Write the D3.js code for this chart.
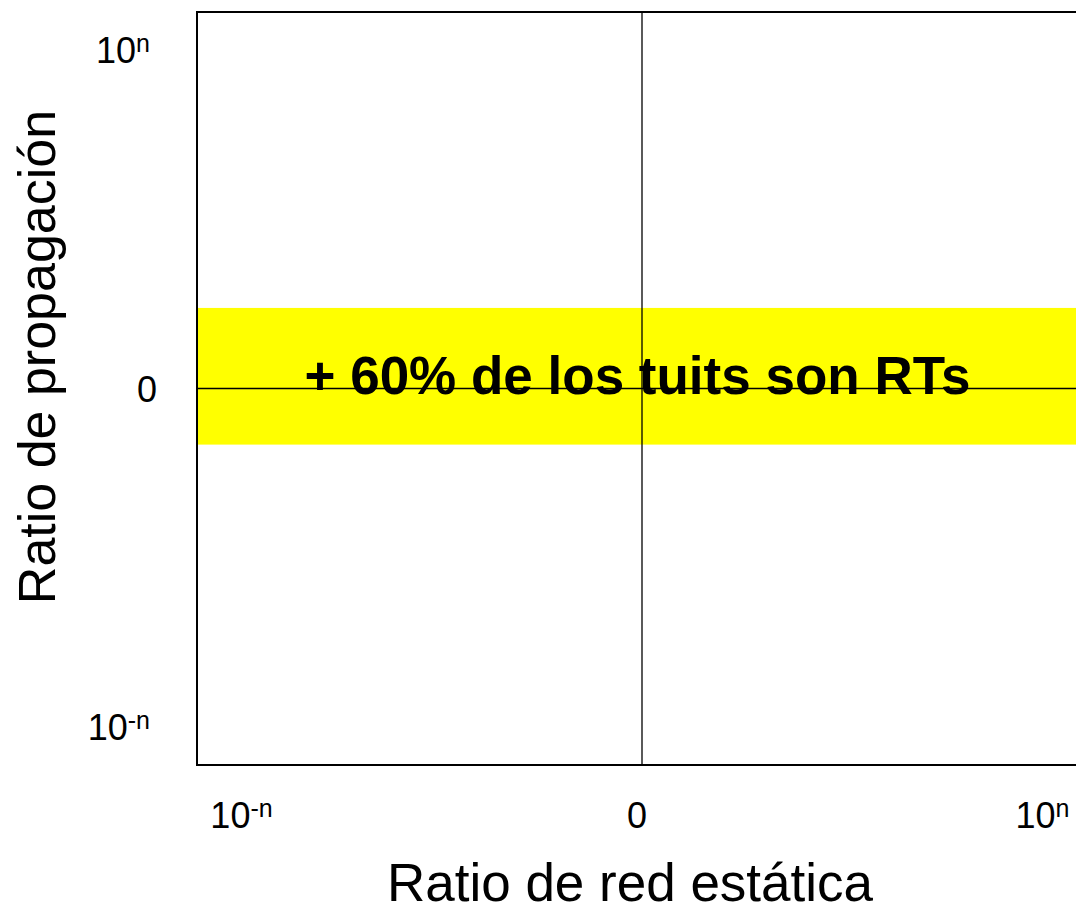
<!DOCTYPE html>
<html lang="es">
<head>
    <meta charset="UTF-8">
    <title>Ratio de propagación vs ratio de red estática</title>
    <script src="https://d3js.org/d3.v7.min.js"></script>
    <style>
        body {
            margin: 0;
            background: #fff;
            overflow: hidden;
        }
        svg text {
            font-family: "Liberation Sans", Arial, sans-serif;
            fill: #000;
        }
    </style>
</head>
<body>
    <div id="chart"></div>
    <script>
        // Axis ticks (schematic log-ratio axes)
        const xTickValues = [-0.9, 0, 0.9];
        const xTickBase = ["10", "0", "10"];
        const xTickSup = ["-n", "", "n"];
        const yTickValues = [0.9, 0, -0.9];
        const yTickBase = ["10", "0", "10"];
        const yTickSup = ["n", "", "-n"];

        // Highlighted band on the propagation axis
        const bandLow = [-0.149];
        const bandHigh = [0.214];
        const bandLabel = ["+ 60% de los tuits son RTs"];

        const xTitle = "Ratio de red estática";
        const yTitle = "Ratio de propagación";

        const width = 1076, height = 912;

        const svg = d3.select("#chart")
            .append("svg")
            .attr("width", width)
            .attr("height", height);

        // Scales: domain [-1, 1] around the central cross
        const x = d3.scaleLinear().domain([-1, 1]).range([197, 1087]);
        const y = d3.scaleLinear().domain([-1, 1]).range([765, 12]);

        // Yellow band
        svg.append("g")
            .selectAll("rect")
            .data(bandLow.map((lo, i) => ({ lo: lo, hi: bandHigh[i] })))
            .enter()
            .append("rect")
            .attr("x", x(-1))
            .attr("width", x(1) - x(-1))
            .attr("y", d => y(d.hi))
            .attr("height", d => y(d.lo) - y(d.hi))
            .attr("fill", "#ffff00");

        // Frame
        svg.append("rect")
            .attr("x", x(-1))
            .attr("y", y(1))
            .attr("width", x(1) - x(-1))
            .attr("height", y(-1) - y(1))
            .attr("fill", "none")
            .attr("stroke", "#000")
            .attr("stroke-width", 2);

        // Central cross at 0, 0
        svg.append("line")
            .attr("x1", x(0)).attr("x2", x(0))
            .attr("y1", y(1)).attr("y2", y(-1))
            .attr("stroke", "#000")
            .attr("stroke-width", 1.3);
        svg.append("line")
            .attr("x1", x(-1)).attr("x2", x(1))
            .attr("y1", y(0)).attr("y2", y(0))
            .attr("stroke", "#000")
            .attr("stroke-width", 1.3);

        // Band label
        svg.append("g")
            .selectAll("text")
            .data(bandLabel)
            .enter()
            .append("text")
            .attr("x", x(-0.01))
            .attr("y", y(0) + 5)
            .attr("text-anchor", "middle")
            .style("font-size", "53px")
            .style("font-weight", "bold")
            .text(d => d);

        // Tick label with superscript exponent
        function tickLabel(sel, base, sup) {
            sel.append("tspan").text(base);
            if (sup) {
                sel.append("tspan")
                    .attr("dy", -11)
                    .style("font-size", "25px")
                    .text(sup);
            }
        }

        // X tick labels
        svg.append("g")
            .selectAll("text")
            .data(xTickValues)
            .enter()
            .append("text")
            .attr("x", (d, i) => x(d) - (i === 1 ? 5 : 0))
            .attr("y", 828)
            .attr("text-anchor", "middle")
            .style("font-size", "36px")
            .each(function(d, i) { tickLabel(d3.select(this), xTickBase[i], xTickSup[i]); });

        // Y tick labels
        svg.append("g")
            .selectAll("text")
            .data(yTickValues)
            .enter()
            .append("text")
            .attr("x", (d, i) => i === 1 ? 157 : 150)
            .attr("y", d => y(d) + 13)
            .attr("text-anchor", "end")
            .style("font-size", "36px")
            .each(function(d, i) { tickLabel(d3.select(this), yTickBase[i], yTickSup[i]); });

        // Axis titles
        svg.append("text")
            .attr("x", 630)
            .attr("y", 901)
            .attr("text-anchor", "middle")
            .style("font-size", "53px")
            .text(xTitle);

        svg.append("text")
            .attr("transform", "translate(55," + 357 + ") rotate(-90)")
            .attr("text-anchor", "middle")
            .style("font-size", "52px")
            .text(yTitle);
    </script>
</body>
</html>
